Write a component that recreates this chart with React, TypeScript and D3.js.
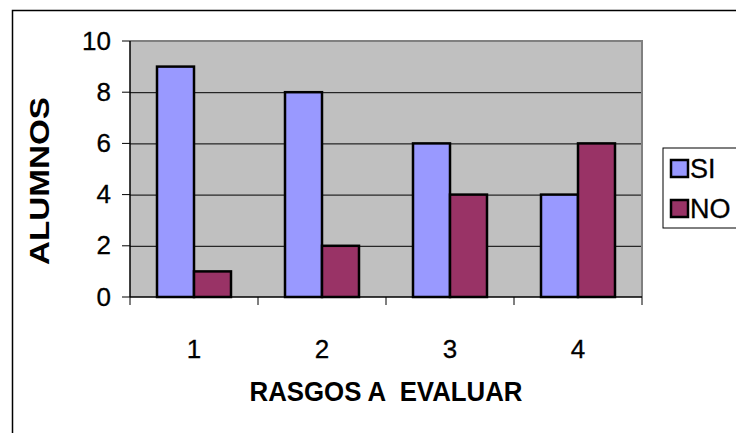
import React from "react";
import * as d3 from "d3";

const categories = ["1", "2", "3", "4"];
const seriesNames = ["SI", "NO"];
const siValues = [9, 8, 6, 4];
const noValues = [1, 2, 4, 6];
const yTicks = [0, 2, 4, 6, 8, 10];
const colors = ["#9999FF", "#993366"];

const W = 736;
const H = 433;
const FONT = "Arial, 'Liberation Sans', sans-serif";

export default function App() {
  const plot = { left: 130, right: 642, top: 41, bottom: 297 };
  const x0 = d3.scaleBand<string>().domain(categories).range([plot.left, plot.right]).padding(0);
  const x1 = d3
    .scaleBand<string>()
    .domain(seriesNames)
    .range([0, x0.bandwidth()])
    .paddingInner(0)
    .paddingOuter(0.73);
  const y = d3.scaleLinear().domain([0, 10]).range([plot.bottom, plot.top]);
  const values = [siValues, noValues];
  const boundaries = [...categories.map((c) => x0(c)!), plot.right];

  return (
    <svg
      width={W}
      height={H}
      style={{ position: "absolute", left: 0, top: 0, background: "#fff" }}
      fontFamily={FONT}
    >
      <rect x={0} y={0} width={W} height={H} fill="#fff" />
      {/* outer frame */}
      <rect x={12.5} y={10.5} width={W + 20} height={H + 20} fill="none" stroke="#000" strokeWidth={1.5} />

      {/* plot area */}
      <rect
        x={plot.left}
        y={plot.top}
        width={plot.right - plot.left}
        height={plot.bottom - plot.top}
        fill="#C0C0C0"
      />
      {/* gridlines */}
      {yTicks
        .filter((t) => t > 0 && t < 10)
        .map((t) => (
          <line key={t} x1={plot.left} x2={plot.right} y1={y(t) + 0.5} y2={y(t) + 0.5} stroke="#000" strokeWidth={1} />
        ))}
      {/* plot border top/right */}
      <line x1={plot.left} x2={plot.right + 1} y1={plot.top} y2={plot.top} stroke="#808080" strokeWidth={2} />
      <line x1={plot.right} x2={plot.right} y1={plot.top} y2={plot.bottom} stroke="#808080" strokeWidth={2} />

      {/* bars */}
      {categories.map((c, i) => (
        <g key={c} transform={`translate(${x0(c)},0)`}>
          {seriesNames.map((s, j) => (
            <rect
              key={s}
              x={x1(s)!}
              y={y(values[j][i])}
              width={x1.bandwidth()}
              height={y(0) - y(values[j][i])}
              fill={colors[j]}
              stroke="#000"
              strokeWidth={2.5}
            />
          ))}
        </g>
      ))}

      {/* axes */}
      <line x1={plot.left} x2={plot.left} y1={plot.top} y2={plot.bottom} stroke="#000" strokeWidth={1.5} />
      <line x1={plot.left} x2={plot.right} y1={plot.bottom} y2={plot.bottom} stroke="#000" strokeWidth={1.5} />
      {yTicks.map((t) => (
        <g key={t}>
          <line x1={plot.left - 8} x2={plot.left} y1={y(t)} y2={y(t)} stroke="#000" strokeWidth={1} />
          <text x={111} y={y(t) + 8.5} textAnchor="end" fontSize={26} fill="#000" stroke="#000" strokeWidth={0.3}>
            {t}
          </text>
        </g>
      ))}
      {boundaries.map((bx, i) => (
        <line key={i} x1={bx} x2={bx} y1={plot.bottom} y2={plot.bottom + 8} stroke="#000" strokeWidth={1} />
      ))}
      {categories.map((c) => (
        <text key={c} x={x0(c)! + x0.bandwidth() / 2} y={358} textAnchor="middle" fontSize={26} fill="#000" stroke="#000" strokeWidth={0.3}>
          {c}
        </text>
      ))}

      {/* axis titles */}
      <text x={386} y={401} textAnchor="middle" fontSize={27} fontWeight="bold" fill="#000" textLength={273} lengthAdjust="spacingAndGlyphs" style={{ whiteSpace: "pre" }}>
        {"RASGOS A  EVALUAR"}
      </text>
      <text
        transform="translate(49,181) rotate(-90)"
        textAnchor="middle"
        fontSize={27}
        fontWeight="bold"
        fill="#000"
        textLength={168}
        lengthAdjust="spacingAndGlyphs"
      >
        ALUMNOS
      </text>

      {/* legend */}
      <rect x={663} y={148} width={100} height={80} fill="#fff" stroke="#000" strokeWidth={1} />
      {seriesNames.map((s, j) => (
        <g key={s}>
          <rect x={671} y={160 + j * 40} width={17} height={17} fill={colors[j]} stroke="#000" strokeWidth={2.5} />
          <text x={690} y={178 + j * 40} fontSize={27} fill="#000" stroke="#000" strokeWidth={0.3}>
            {s}
          </text>
        </g>
      ))}
    </svg>
  );
}
